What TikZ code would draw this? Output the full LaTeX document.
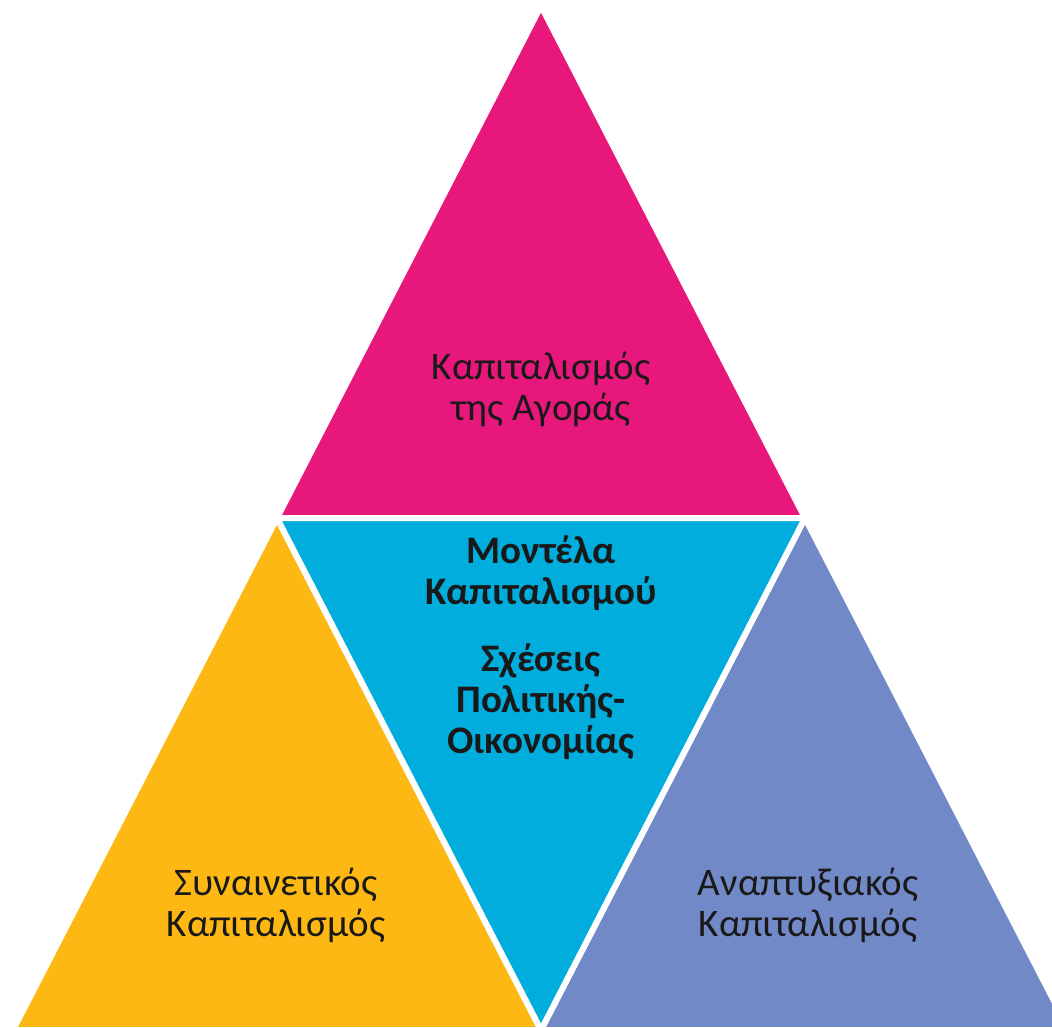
\documentclass[tikz,border=0pt]{standalone}
\usepackage{fontspec}
\setmainfont{Carlito}
\definecolor{agora}{HTML}{E8177B}
\definecolor{kentro}{HTML}{00ADDC}
\definecolor{synain}{HTML}{FDB813}
\definecolor{anapt}{HTML}{7189C6}
\tikzset{
  tri/.style={draw=white, line width=3pt, line join=miter},
  tritext/.style={align=center, text=black!90, font=\fontsize{19.5}{20.5}\selectfont},
  midtext/.style={tritext, font=\fontsize{19.5}{20.5}\selectfont\bfseries}
}

\begin{document}
\begin{tikzpicture}[x=0.5pt,y=-0.5pt]
            \useasboundingbox (0,0) rectangle (1052,1027);
            \clip (0,0) rectangle (1052,1027);

            % Corners of the big triangle and its midpoints
            \coordinate (apex) at (541,6);
            \coordinate (midL) at (277,518);
            \coordinate (midR) at (805,518);
            \coordinate (botL) at (13,1030);
            \coordinate (botM) at (541,1030);
            \coordinate (botR) at (1069,1030);

            % Four triangles
            \filldraw[tri, fill=agora] (apex) -- (midL) -- (midR) -- cycle; % top
            \filldraw[tri, fill=synain] (midL) -- (botL) -- (botM) -- cycle; % left
            \filldraw[tri, fill=anapt] (midR) -- (botM) -- (botR) -- cycle; % right
            \filldraw[tri, fill=kentro] (midL) -- (midR) -- (botM) -- cycle; % middle

            % Texts
            \node[tritext] (agoraT) at (541,389) {Καπιταλισμός\\της Αγοράς};
            \node[midtext] (montela) at (541,573) {Μοντέλα\\Καπιταλισμού};
            \node[midtext] (sxeseis) at (541,702) {Σχέσεις\\Πολιτικής-\\Οικονομίας};
            \node[tritext] (synainT) at (276,905) {Συναινετικός\\Καπιταλισμός};
            \node[tritext] (anaptT) at (808,905) {Αναπτυξιακός\\Καπιταλισμός};
        \end{tikzpicture}
\end{document}
